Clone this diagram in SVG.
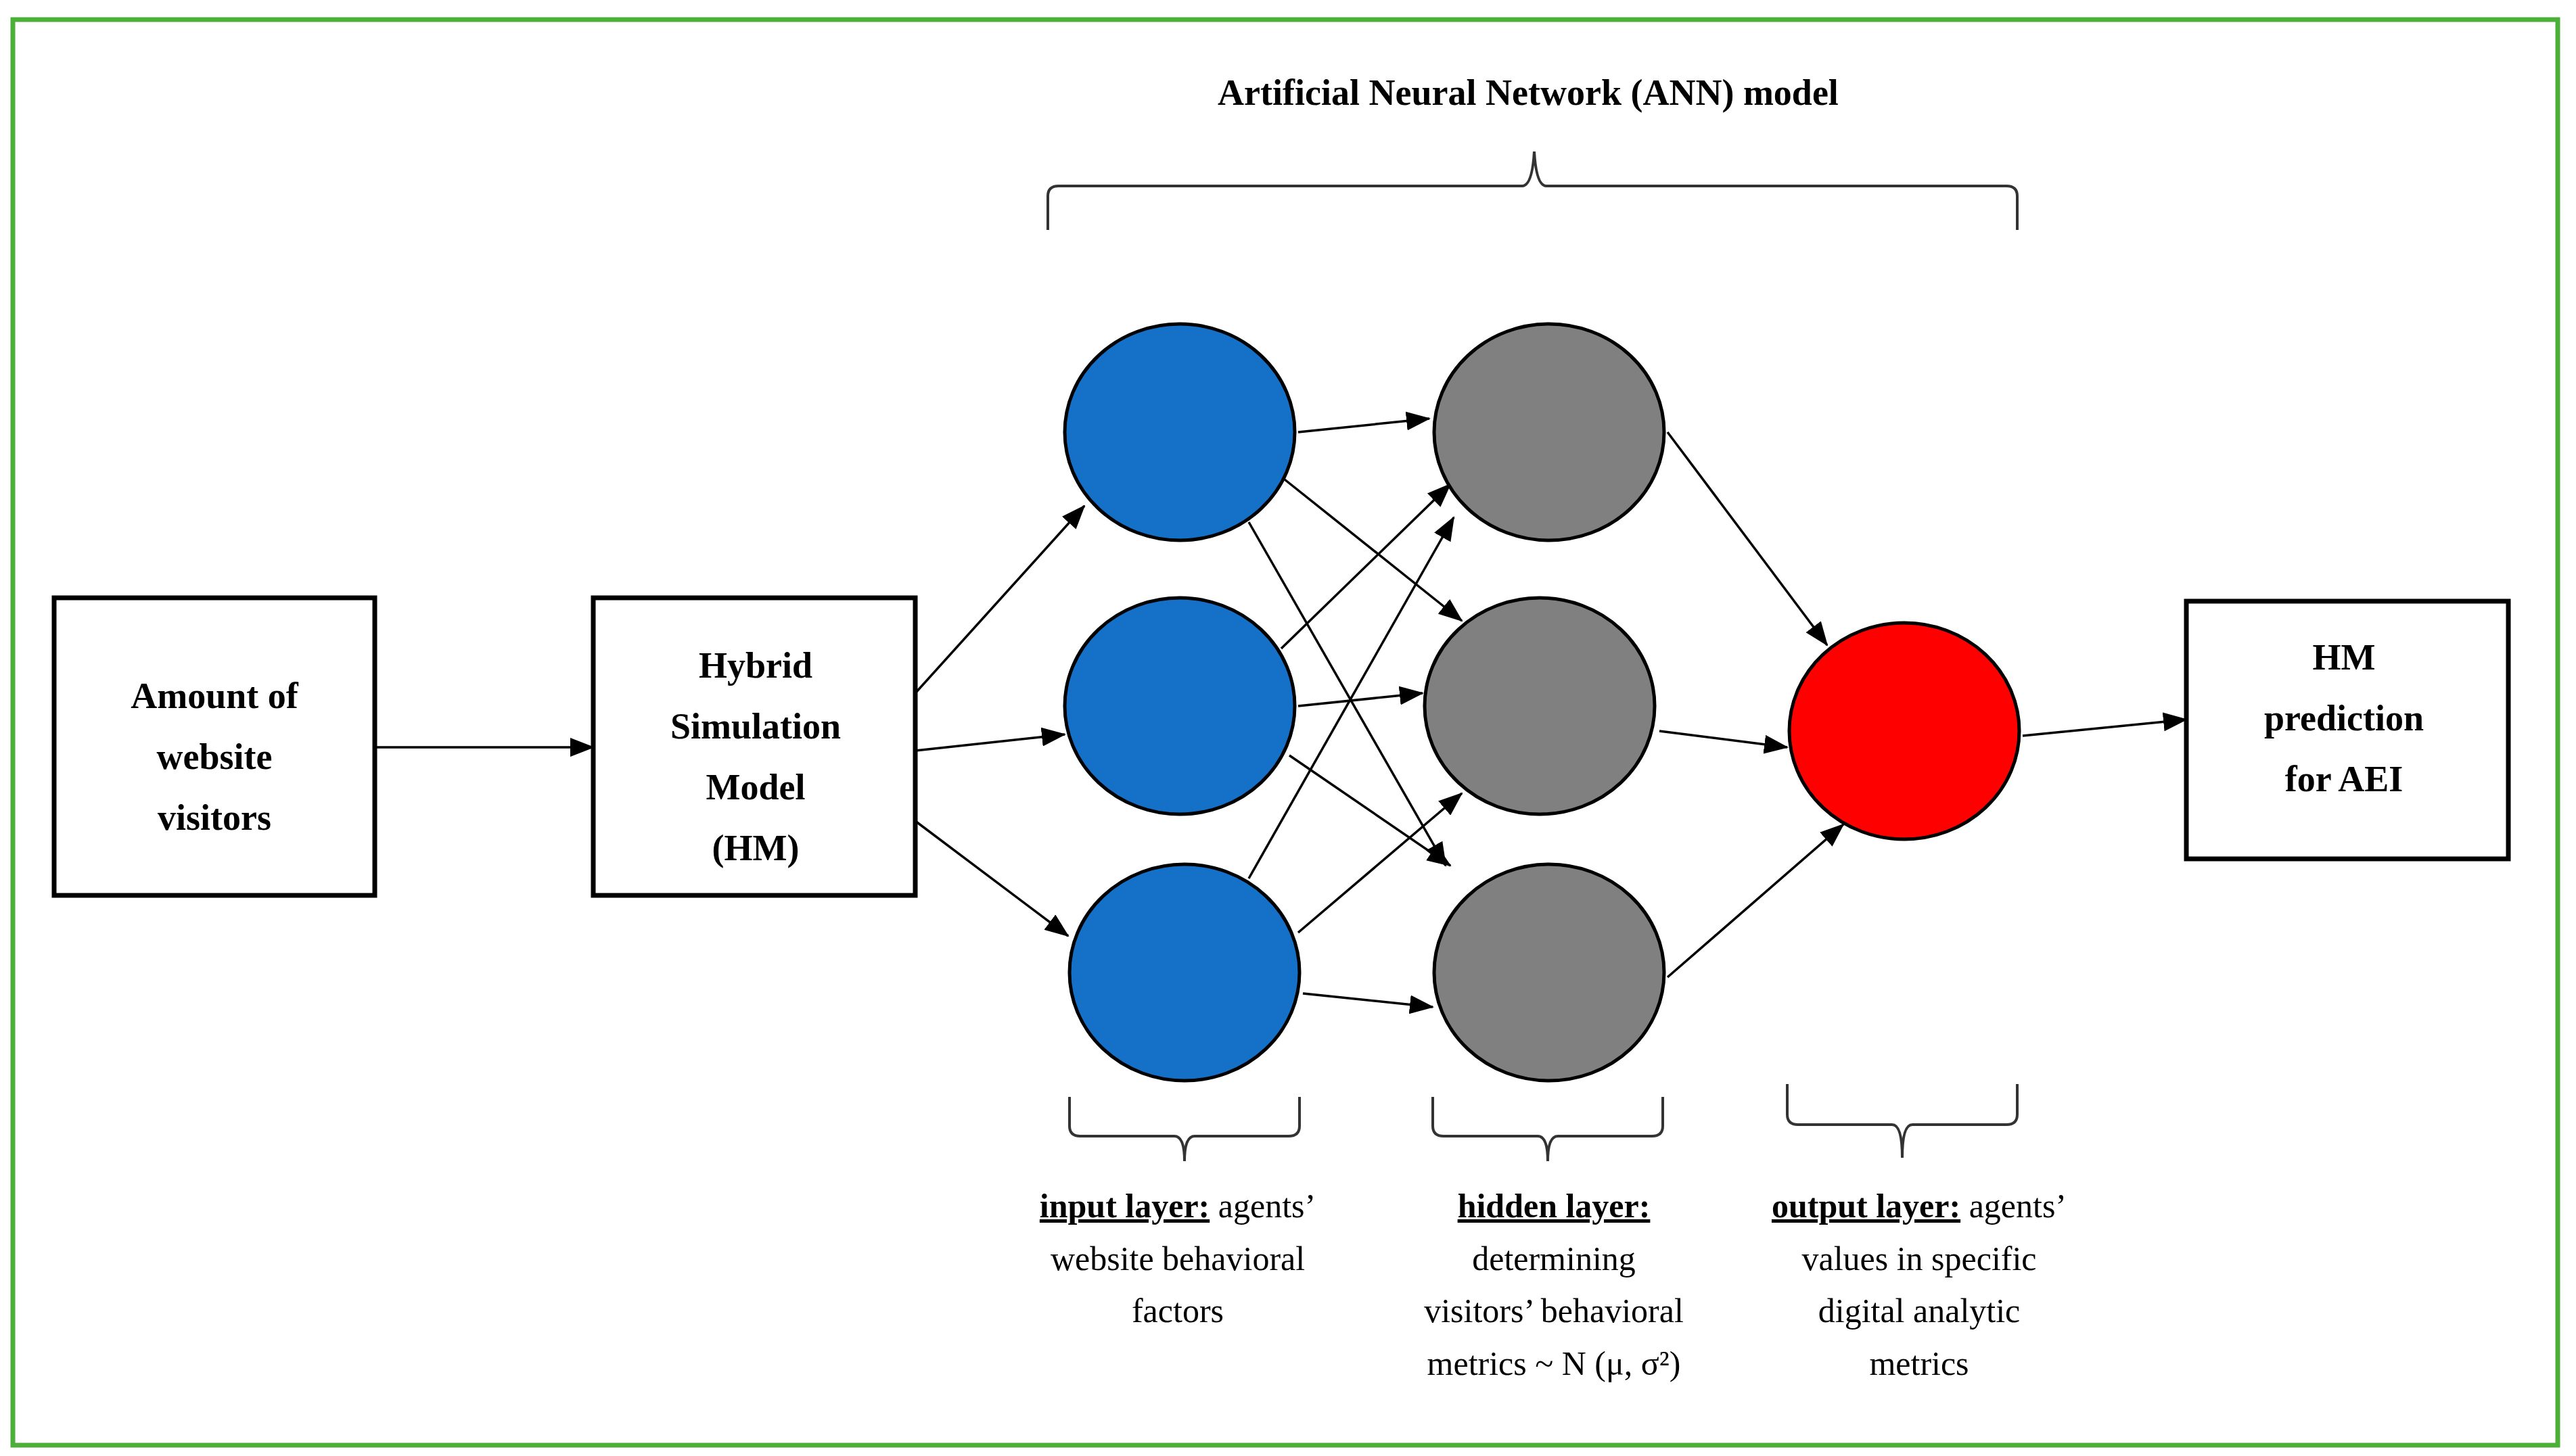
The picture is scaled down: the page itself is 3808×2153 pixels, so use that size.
<svg xmlns="http://www.w3.org/2000/svg" width="3808" height="2153" viewBox="0 0 3808 2153">
<style>
.box{fill:#fff;stroke:#000;stroke-width:7}
.bt{font-family:"Liberation Serif",serif;font-weight:bold;font-size:54px;text-anchor:middle}
.lt{font-family:"Liberation Serif",serif;font-size:50px;text-anchor:middle}
.c{stroke:#000;stroke-width:5}
.e{stroke:#000;stroke-width:3.5;fill:none;marker-end:url(#ah)}
.br{fill:none;stroke:#333;stroke-width:4}
</style>
<defs>
<marker id="ah" markerUnits="userSpaceOnUse" markerWidth="36" markerHeight="28" refX="34" refY="14" orient="auto"><path d="M0,0 L36,14 L0,28 Z" fill="#000"/></marker>
</defs>
<rect x="0" y="0" width="3808" height="2153" fill="#fff"/>
<rect x="19" y="29" width="3762" height="2108" fill="none" stroke="#4caf3a" stroke-width="7"/>
<text class="bt" x="2259" y="155">Artificial Neural Network (ANN) model</text>
<g id="braces">
<path class="br" d="M1549,340 L1549,290 Q1549,275 1565,275 L2250,275 Q2265,275 2268,224 Q2271,275 2286,275 L2966,275 Q2982,275 2982,290 L2982,340"/>
<path class="br" d="M1581,1622 L1581,1665 Q1581,1680 1597,1680 L1736,1680 Q1751,1680 1751,1717 Q1751,1680 1766,1680 L1905,1680 Q1921,1680 1921,1665 L1921,1622"/>
<path class="br" d="M2118,1622 L2118,1665 Q2118,1680 2134,1680 L2273,1680 Q2288,1680 2288,1717 Q2288,1680 2303,1680 L2442,1680 Q2458,1680 2458,1665 L2458,1622"/>
<path class="br" d="M2642,1603 L2642,1648 Q2642,1663 2658,1663 L2797,1663 Q2812,1663 2812,1712 Q2812,1663 2827,1663 L2966,1663 Q2982,1663 2982,1648 L2982,1603"/>
</g>
<g id="connectors">
<path class="e" d="M554,1105 L877,1105"/>
<path class="e" d="M1353,1025 L1603,748"/>
<path class="e" d="M1353,1110 L1574,1086"/>
<path class="e" d="M1353,1214 L1579,1384"/>
<path class="e" d="M1919,639 L2113,619"/>
<path class="e" d="M1899,709 L2161,918"/>
<path class="e" d="M1846,772 L2137,1280"/>
<path class="e" d="M1894,959 L2144,716"/>
<path class="e" d="M1919,1044 L2103,1025"/>
<path class="e" d="M1906,1117 L2144,1280"/>
<path class="e" d="M1846,1299 L2149,765"/>
<path class="e" d="M1919,1379 L2161,1173"/>
<path class="e" d="M1926,1469 L2118,1489"/>
<path class="e" d="M2465,639 L2701,954"/>
<path class="e" d="M2453,1081 L2642,1105"/>
<path class="e" d="M2465,1445 L2725,1219"/>
<path class="e" d="M2990,1088 L3232,1064"/>
</g>
<g id="box1"><rect class="box" x="80" y="884" width="474" height="440"/>
<text class="bt" x="317" y="1047">Amount of</text><text class="bt" x="317" y="1137">website</text><text class="bt" x="317" y="1227">visitors</text></g>
<g id="box2"><rect class="box" x="877" y="884" width="476" height="440"/>
<text class="bt" x="1117" y="1002">Hybrid</text><text class="bt" x="1117" y="1092">Simulation</text><text class="bt" x="1117" y="1182">Model</text><text class="bt" x="1117" y="1272">(HM)</text></g>
<g id="box3"><rect class="box" x="3232" y="889" width="476" height="381"/>
<text class="bt" x="3465" y="990">HM</text><text class="bt" x="3465" y="1080">prediction</text><text class="bt" x="3465" y="1170">for AEI</text></g>
<g id="in1"><ellipse class="c" cx="1744" cy="639" rx="170" ry="160" fill="#1570c8"/></g>
<g id="in2"><ellipse class="c" cx="1744" cy="1044" rx="170" ry="160" fill="#1570c8"/></g>
<g id="in3"><ellipse class="c" cx="1751" cy="1438" rx="170" ry="160" fill="#1570c8"/></g>
<g id="h1"><ellipse class="c" cx="2290" cy="639" rx="170" ry="160" fill="#808080"/></g>
<g id="h2"><ellipse class="c" cx="2276" cy="1044" rx="170" ry="160" fill="#808080"/></g>
<g id="h3"><ellipse class="c" cx="2290" cy="1438" rx="170" ry="160" fill="#808080"/></g>
<g id="out"><ellipse class="c" cx="2815" cy="1081" rx="170" ry="160" fill="#ff0000"/></g>
<g id="labels">
<text class="lt" x="1741" y="1800"><tspan font-weight="bold" text-decoration="underline">input layer:</tspan> agents’</text>
<text class="lt" x="1741" y="1878">website behavioral</text>
<text class="lt" x="1741" y="1955">factors</text>
<text class="lt" x="2297" y="1800"><tspan font-weight="bold" text-decoration="underline">hidden layer:</tspan></text>
<text class="lt" x="2297" y="1878">determining</text>
<text class="lt" x="2297" y="1955">visitors’ behavioral</text>
<text class="lt" x="2297" y="2033">metrics ~ N (μ, σ²)</text>
<text class="lt" x="2837" y="1800"><tspan font-weight="bold" text-decoration="underline">output layer:</tspan> agents’</text>
<text class="lt" x="2837" y="1878">values in specific</text>
<text class="lt" x="2837" y="1955">digital analytic</text>
<text class="lt" x="2837" y="2033">metrics</text>
</g>
</svg>
